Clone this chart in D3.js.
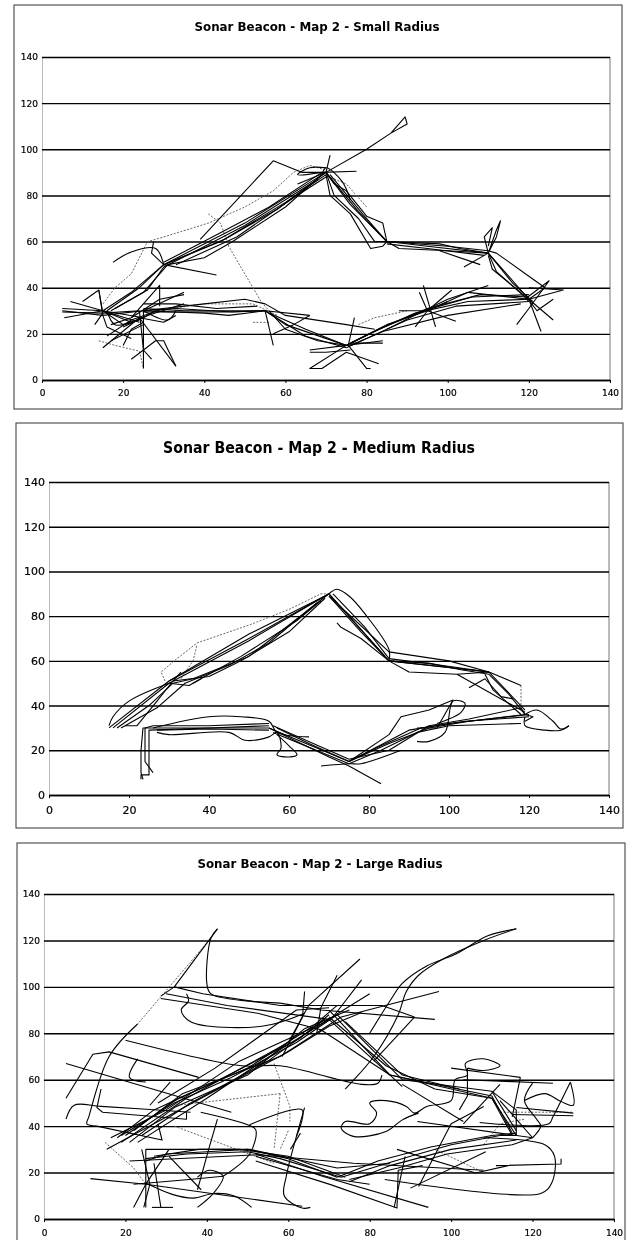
<!DOCTYPE html>
<html>
<head>
<meta charset="utf-8">
<script src="https://cdn.jsdelivr.net/npm/d3@7"></script>
<style>
html, body { margin: 0; padding: 0; background: #fff; }
svg { display: block; }
</style>
</head>
<body>
<div id="chart"></div>
<script>
// axis ticks shared by the three maps
var xTicks = [0, 20, 40, 60, 80, 100, 120, 140];
var yTicks = [0, 20, 40, 60, 80, 100, 120, 140];

var smallTitle = "Sonar Beacon - Map 2 - Small Radius";
var mediumTitle = "Sonar Beacon - Map 2 - Medium Radius";
var largeTitle = "Sonar Beacon - Map 2 - Large Radius";

// x,y pairs, one list per run
var smallTracks = [
  [[15,30],[22,38],[30,50],[50,68],[70,90]],
  [[16,30],[24,40],[30,50],[45,61],[60,77],[70,89]],
  [[17,30],[25,38],[31,50],[40,53],[47,60],[60,75],[69,89]],
  [[18,31],[26,39],[30,49],[38,56],[50,67],[68,87]],
  [[30,50],[44,60],[58,74],[70,90]],
  [[30,51],[42,62],[56,75],[69,90]],
  [[33,50],[48,62],[62,79],[70,88]],
  [[30,50],[43,45.5]],
  [[27.5,60],[27,55],[30,50]],
  [[39,61],[57,95],[64,90],[70,90]],
  [[69,90],[77.5,90.5]],
  [[70,90],[71,97.5]],
  [[63,85],[70,90],[80,100],[86,107],[89.5,114],[90,111],[86,107]],
  [[70,90],[72,80],[78,70],[82,60],[85,60]],
  [[70,90],[72,85],[75,82],[80,71],[84,68],[85,60]],
  [[70,89],[71,80],[76,72],[81,57],[84,58],[85,60]],
  [[70,90],[76,76],[85,60]],
  [[70,90],[78,73],[85,60]],
  [[71,89],[79,72],[85,60]],
  [[85,60],[88,57],[100,56],[110,55]],
  [[85,60],[100,58],[110,56]],
  [[85,59],[95,57],[109,54]],
  [[85,60],[98,59],[103,57],[110,55]],
  [[85,60],[95,58],[110,55]],
  [[98,56],[108,50]],
  [[110,55],[112,65],[113,69],[112,62],[110,55]],
  [[110,55],[109,62],[111,66],[110,58]],
  [[110,55],[104,49]],
  [[110,56],[112,55],[120,45],[124,40],[120,35]],
  [[110,55],[115,45],[120,35]],
  [[110,54],[111,48],[118,38],[120,34]],
  [[110,55],[112,47],[119,36]],
  [[110,55],[116,42],[121,34]],
  [[120,35],[128.5,39],[120,40]],
  [[119,35],[125,43],[120,31],[117,24]],
  [[120,35],[126,26]],
  [[120,35],[123,21]],
  [[119,37],[122,30],[126,35]],
  [[120,35],[105,38],[95,30],[85,24],[75,15]],
  [[120,36],[108,37],[95,31],[84,23],[75,15]],
  [[120,34],[102,32],[90,26],[75,14]],
  [[118,33],[100,28],[84,21],[76,15]],
  [[120,35],[105,34],[92,29],[82,21],[75,15]],
  [[120,37],[106,36],[94,30],[83,22],[76,16]],
  [[110,41],[100,35],[93,29],[85,22]],
  [[94,41],[97,23]],
  [[93,38],[95,30],[101,39]],
  [[88,30],[95,30],[102,25.5]],
  [[92,23],[95,30],[100,34]],
  [[77,27],[75.5,15],[80,5],[81,5]],
  [[75,15],[66,5],[69,5],[75,12],[83,7]],
  [[66,13],[75,15],[84,17]],
  [[75,15],[60,24],[55,30]],
  [[75,14],[65,19],[55,30]],
  [[75,15],[68,17],[60,22],[56,30]],
  [[75,15],[65,22],[56,29]],
  [[76,16],[84,16]],
  [[76,13],[70,12],[66,12]],
  [[55,30],[66,28]],
  [[55,30],[57,15]],
  [[57,20],[62,24],[66,28]],
  [[25,30],[40,29],[46,28],[55,30]],
  [[25,31],[35,30],[50,30],[55,30]],
  [[25,30],[33,31],[47,29.5],[55,30]],
  [[25,29.5],[45,29.5],[55,30]],
  [[25,30],[40,33],[50,35],[55,33],[60,28],[75,24],[82,22]],
  [[25,33],[33,33],[43,31],[53,32]],
  [[25,30],[25,18],[25,13],[25,5]],
  [[24,30],[25,13],[22,9]],
  [[24,27],[33,6]],
  [[25,13],[28,17],[30,17],[33,6]],
  [[25,13],[27,9]],
  [[5,31],[15,30],[25,27]],
  [[5,29.5],[15,29],[24,30]],
  [[5,30],[15,28],[25,30]],
  [[5.5,27],[15,30],[22,25]],
  [[7,34],[15,30],[24,25]],
  [[14,39],[15,28],[16,23],[22,18]],
  [[10,34],[14,39],[15,29],[13,24]],
  [[15,30],[20,24],[25,27],[28,30]],
  [[15,14],[24,27],[30,25],[33,28]],
  [[25,30],[35,38]],
  [[22,27],[29,41],[29,32]],
  [[17,24],[22,27],[29,35],[35,37]],
  [[20,15],[22,22],[25,25]],
  [[17,17],[25,24]],
  [[16,19],[22,26],[30,31]],
  [[20,23],[26,28],[35,33]]
];
var smallCurves = [
  [[17.5,51],[22,55.5],[28,57],[30,50]],
  [[25,30],[31,26],[33,30]],
  [[16,30],[18,24],[24,26]],
  [[70,92],[66,92],[63,89],[69,90]],
  [[69,89],[70,92],[74,86],[76,78]]
];
var smallDotted = [
  [[15,33],[18,40],[22,46],[26,60],[30,62],[41,68],[50,75],[57,82],[62,90],[66,93],[70,91]],
  [[41,72],[44,68],[46,58],[50,46],[54,34],[56,30]],
  [[14,17],[18,15],[24,12.5],[25,5]],
  [[28,30],[40,33],[52,33],[58,28]],
  [[52,25],[56,25]],
  [[68,90],[75,85],[80,75]],
  [[78,24],[82,27],[90,30]]
];

var mediumTracks = [
  [[15,30],[30,51],[50,70],[70,90]],
  [[16,30],[30,50],[50,69],[70,90]],
  [[17,30],[25,40],[31,50],[36,52],[50,62],[70,90]],
  [[19,31],[22,31],[27,42],[31,51],[40,53],[48,60],[60,73],[69,88]],
  [[18,30],[27,39],[34,50],[45,58],[55,68],[67,86]],
  [[31,51],[33,55]],
  [[30,50],[35,49],[38,52]],
  [[30,51],[50,72],[69,89]],
  [[36,50],[48,62],[62,78],[68,87]],
  [[70,89],[85,64],[100,60],[110,55]],
  [[70,90],[85,60],[90,55],[102,54],[110,55]],
  [[70,89],[78,73],[85,60],[100,57],[110,55]],
  [[72,77],[73,75],[78,70],[85,60]],
  [[70,90],[77,76],[84,62]],
  [[71,90],[79,75],[85,61]],
  [[85,60],[110,55]],
  [[85,60],[95,59],[103,56],[110,54]],
  [[85,61],[98,58],[110,55]],
  [[110,55],[118,49]],
  [[102,54],[119,37]],
  [[110,54],[115,45],[119,36]],
  [[110,55],[119,38]],
  [[109,54],[111,47],[118,36]],
  [[105,48],[109,52],[113,44],[116,43]],
  [[118,39],[119,36],[121,35],[119,33]],
  [[119,36],[105,33],[95,30],[85,23],[75,15]],
  [[118,39],[105,34],[95,31],[85,20],[75,16]],
  [[120,36],[100,32],[90,29],[75,15]],
  [[118,32],[100,31],[92,28],[83,20],[75,14]],
  [[120,35],[104,33],[93,30],[83,22],[76,16]],
  [[75,15],[85,27],[88,35],[95,38],[101,42.5],[97,30],[92,30]],
  [[75,15],[55,30]],
  [[83,5],[75,13],[70,17],[55,30]],
  [[75,16],[56,31]],
  [[75,14],[56,28]],
  [[75,15],[65,23],[57,30]],
  [[55,30],[25,30],[23.5,30],[23,20],[23,10],[23.5,7]],
  [[55,31],[40,30],[25,29],[25,12],[25,9],[23,9],[23,7]],
  [[55,32],[40,31],[26,31],[24,30],[24,15],[26,10]],
  [[55,29],[40,29.5],[27,29]]
];
var mediumCurves = [
  [[15,31],[16,35],[20,42],[30,50]],
  [[70,90],[72,92],[75,89],[79,81],[85,65],[85,60]],
  [[119,36],[122,38],[126,33],[128,29.5],[130,31]],
  [[119,35],[119,31],[124,29],[128,29],[130,31]],
  [[97,32],[103,37],[104,41],[101,42],[99,28],[95,24],[92,24]],
  [[88,20],[78,14],[75,14],[68,13]],
  [[26,30],[40,35],[48,35],[55,33],[57,28],[65,26]],
  [[27,28],[30,27],[45,28],[49,24.5],[55,26],[57,28],[58,21],[57,18],[60,17],[62,18],[60,22],[57,27]]
];
var mediumDotted = [
  [[29,51],[28,55],[32,61],[37,68],[50,76],[60,83],[68,90],[70,90]],
  [[33,52],[36,60],[37,67]],
  [[118,49],[118,38]]
];

var largeTracks = [
  [[16.4,35],[30,47],[48,68],[68,84],[80,97]],
  [[19,33],[35,52],[60,76],[65,92],[77.6,112]],
  [[23,33],[40,52],[58,73],[71,87],[78,103]],
  [[22,38],[34,54],[58,70],[73,87],[97,98]],
  [[15.4,30],[28,42],[45,58],[60,72],[70,83],[78,89]],
  [[18,35],[27,47],[42,59],[63,78],[70,88]],
  [[26,49],[31,59]],
  [[20,36],[33,52],[50,65],[66,83],[72,92]],
  [[28,50],[42,65],[62,90],[70,91]],
  [[24,36],[36,50],[55,68],[69,86]],
  [[21,33],[32,48],[50,62],[64,82],[75,90]],
  [[19,36],[32,50],[46,61],[62,76],[72,88]],
  [[28.7,95],[52.5,88.6],[68,81.5],[85,62],[88,57]],
  [[30,97],[45,92],[70,86],[85,62],[110,52],[116,36]],
  [[58,93],[68,90],[96,86]],
  [[42.6,125],[32,100],[28.7,96]],
  [[32,100],[39,97],[58,92],[83,92],[91,87]],
  [[5.4,52],[12,71],[16,72],[38,61]],
  [[5.4,67],[46,46]],
  [[14,56],[13,48],[14.4,46],[35,43],[35,46]],
  [[13,40],[29,34],[28,41]],
  [[42.6,43],[40.6,31],[37.7,12.6]],
  [[63,37],[60.5,30]],
  [[64,98],[63.5,87],[58.5,70]],
  [[72,105],[68,91],[67,80]],
  [[25,30],[50.5,30],[72,22],[85,24]],
  [[25,30],[25,15],[25,5]],
  [[24,30],[26,15],[24.5,5]],
  [[21,25],[52.5,27.7],[76,24],[108,21]],
  [[11.4,17.4],[25,15],[63.4,5.5]],
  [[22,15],[35.7,17],[44,18.4]],
  [[22,5],[25,15],[30.7,30]],
  [[26.5,5],[31.7,5]],
  [[28.7,5],[27,24]],
  [[38.6,12.6],[30.7,27]],
  [[52,25],[70.4,14.8],[86.7,4.7],[87,21],[93,23]],
  [[94.4,5],[68.4,18.4],[52,28]],
  [[86,5],[88.7,27]],
  [[111,23],[127,23.7],[127,26]],
  [[90,13.3],[108.5,29]],
  [[86.7,30],[106,19.8],[114,23]],
  [[91.7,42],[120,35]],
  [[100,65],[117,61]],
  [[104,65],[104,53],[102,47]],
  [[117,61],[115,44]],
  [[103,60],[125,58.5]],
  [[116,48],[130,45.6]],
  [[115,45],[130,44.5]],
  [[112,51],[120,35]],
  [[112,58],[103,41]],
  [[88,58],[103,42]],
  [[108,48.5],[100,41],[92,14]],
  [[72,18],[82,25],[95,31],[110,36],[116,37]],
  [[75,16],[85,23],[100,30],[116,34]],
  [[73,18],[90,27],[100,32],[112,36],[116,36]],
  [[75,17],[87,22],[99,28],[115,32],[120,35]],
  [[25,25],[30,28],[40,29],[50,30],[60,26],[72,18]],
  [[25,26],[35,28],[50,29],[58,26],[73,18]],
  [[27,27],[38,30],[48,30],[60,27],[74,18]],
  [[52,27],[72,17],[80,15]],
  [[70,90],[85,62],[110,53],[115,37]],
  [[72,88],[88,60],[110,55],[116,38]],
  [[70,87],[84,66],[96,56],[110,52],[115,36]],
  [[110,55],[116,47],[116,36]],
  [[74,85],[88,62],[102,56]],
  [[91,87],[81,68]]
];
var largeCurves = [
  [[42.6,125],[41,121],[40,101.5],[41,97],[58,93]],
  [[35,97],[35.5,94],[33.7,90],[36,85],[53.5,83],[64,88.6]],
  [[23,84],[16,70],[11,44],[10.5,41],[13,40]],
  [[20,77],[48.5,66],[58,66],[78,58],[82,58.5],[83,62]],
  [[5.4,43],[7.4,49],[14,48.5],[36,46]],
  [[23,69],[21,61],[25,59]],
  [[38.5,46],[50,40.6],[52,38.5],[50.5,28],[44,18.4]],
  [[50.5,40.6],[63.4,47],[62,35.6]],
  [[64,48],[62,35.6],[59.5,18.4],[59,10],[63.4,4.7],[65.4,5]],
  [[25,15.5],[31.7,10.5],[36.7,9],[41.6,11],[46.6,10],[51,5]],
  [[37.7,5],[41.6,11],[44,18.4],[40.6,21],[37.7,18]],
  [[83.7,17],[122,11],[124.7,15.5],[125.4,27],[123,32],[108,35]],
  [[92,45.6],[88,42.7],[84,37.7],[76,35.6],[73,39],[74,42],[80,41],[81.7,45.6],[80,50],[84,51],[89,48.5],[91,45.6],[94,48.5],[100,51],[101,60],[104,62],[103.5,67],[108,69],[112,66],[108,64],[104,65]],
  [[129.3,59],[130,49],[127,50.6],[123,54],[118,51]],
  [[129.3,59],[125,44],[124,41],[107,41.6]],
  [[120,58.5],[118,51],[121,43],[122,40],[120,35]],
  [[116,125],[109,122],[101,114],[94,109],[88,101.5],[85,94],[80,80]],
  [[116,125],[108,120],[98,112],[92,105],[89,98],[87,88],[81,70],[74,56]]
];
var largeDotted = [
  [[41,121],[23,84]],
  [[58,54],[56.5,30]],
  [[56.5,67],[60.4,48.5],[60.4,42]],
  [[58,54],[32.7,49]],
  [[32,40],[56.5,24]],
  [[15,33],[22,22],[25,15]],
  [[108,32],[112,41],[118,43]],
  [[96,30],[108,20]],
  [[112,46],[130,46]],
  [[60,38],[58,30]]
];

var svg = d3.select("#chart").append("svg")
    .attr("width", 629)
    .attr("height", 1240);

// soft edge, the original is a scan
svg.append("defs").append("filter")
    .attr("id", "scan")
    .attr("x", 0).attr("y", 0)
    .attr("width", 1).attr("height", 1)
    .append("feGaussianBlur")
    .attr("stdDeviation", 0.45);

var page = svg.append("g").attr("filter", "url(#scan)");
page.append("rect").attr("width", 629).attr("height", 1240).attr("fill", "#fff");

function drawMap(opts) {
    var x = d3.scaleLinear().domain([0, 140]).range([opts.left, opts.right]);
    var y = d3.scaleLinear().domain([0, 140]).range([opts.bottom, opts.top]);
    var g = page.append("g");

    // outer frame
    g.append("rect")
        .attr("x", opts.fx).attr("y", opts.fy)
        .attr("width", opts.fw).attr("height", opts.fh)
        .attr("fill", "#fff")
        .attr("stroke", "#333")
        .attr("stroke-width", 1);

    g.append("text")
        .attr("x", opts.titleX).attr("y", opts.titleY)
        .attr("text-anchor", "middle")
        .attr("font-family", "'DejaVu Sans', sans-serif")
        .attr("font-weight", "bold")
        .attr("font-size", opts.titleSize)
        .attr("textLength", opts.titleLen)
        .attr("lengthAdjust", "spacingAndGlyphs")
        .attr("fill", "#000")
        .text(opts.title);

    // right edge of the plot area
    g.append("line")
        .attr("x1", opts.right).attr("x2", opts.right)
        .attr("y1", opts.top).attr("y2", opts.bottom)
        .attr("stroke", "#777");

    var yAxis = g.append("g")
        .attr("transform", "translate(" + opts.left + ",0)")
        .call(d3.axisLeft(y).tickValues(yTicks).tickSize(opts.left - opts.right).tickSizeOuter(0).tickPadding(4));
    yAxis.selectAll(".tick line").attr("stroke", "#000").attr("stroke-width", 1.4);
    yAxis.select(".domain").attr("stroke", "#777").attr("stroke-dasharray", "1,1");

    var xAxis = g.append("g")
        .attr("transform", "translate(0," + opts.bottom + ")")
        .call(d3.axisBottom(x).tickValues(xTicks).tickSize(3).tickSizeOuter(0).tickPadding(opts.xPad));
    xAxis.select(".domain").attr("stroke", "#000").attr("stroke-width", 1.4);
    xAxis.selectAll(".tick line").attr("stroke", "#000");

    g.selectAll(".tick text")
        .attr("font-family", "'DejaVu Sans', sans-serif")
        .attr("font-size", opts.tickSize)
        .attr("stroke", "#000")
        .attr("stroke-width", 0.2)
        .attr("fill", "#000");

    var line = d3.line()
        .x(function(d) { return x(d[0]); })
        .y(function(d) { return y(d[1]); });

    var curve = d3.line()
        .curve(d3.curveCatmullRom)
        .x(function(d) { return x(d[0]); })
        .y(function(d) { return y(d[1]); });

    g.selectAll("path.dotted")
        .data(opts.dotted)
        .enter().append("path")
        .attr("class", "dotted")
        .attr("d", line)
        .attr("fill", "none")
        .attr("stroke", "#555")
        .attr("stroke-width", 0.9)
        .attr("stroke-dasharray", "2,1.5");

    g.selectAll("path.track")
        .data(opts.tracks)
        .enter().append("path")
        .attr("class", "track")
        .attr("d", line)
        .attr("fill", "none")
        .attr("stroke", "#000")
        .attr("stroke-width", 1.1)
        .attr("stroke-linejoin", "round");

    g.selectAll("path.curved")
        .data(opts.curves)
        .enter().append("path")
        .attr("class", "curved")
        .attr("d", curve)
        .attr("fill", "none")
        .attr("stroke", "#000")
        .attr("stroke-width", 1.1);
}

drawMap({
    title: smallTitle, tracks: smallTracks, curves: smallCurves, dotted: smallDotted,
    left: 42, right: 610, top: 57, bottom: 380,
    fx: 14, fy: 5, fw: 608, fh: 404,
    titleX: 317, titleY: 31, titleSize: 12, titleLen: 245,
    tickSize: 9, xPad: 7
});
drawMap({
    title: mediumTitle, tracks: mediumTracks, curves: mediumCurves, dotted: mediumDotted,
    left: 49, right: 609, top: 482, bottom: 795,
    fx: 16, fy: 423, fw: 607, fh: 405,
    titleX: 319, titleY: 453, titleSize: 15, titleLen: 312,
    tickSize: 11, xPad: 8
});
drawMap({
    title: largeTitle, tracks: largeTracks, curves: largeCurves, dotted: largeDotted,
    left: 44, right: 614, top: 894, bottom: 1219,
    fx: 17, fy: 843, fw: 608, fh: 420,
    titleX: 320, titleY: 868, titleSize: 12, titleLen: 245,
    tickSize: 9, xPad: 8
});
</script>
</body>
</html>
